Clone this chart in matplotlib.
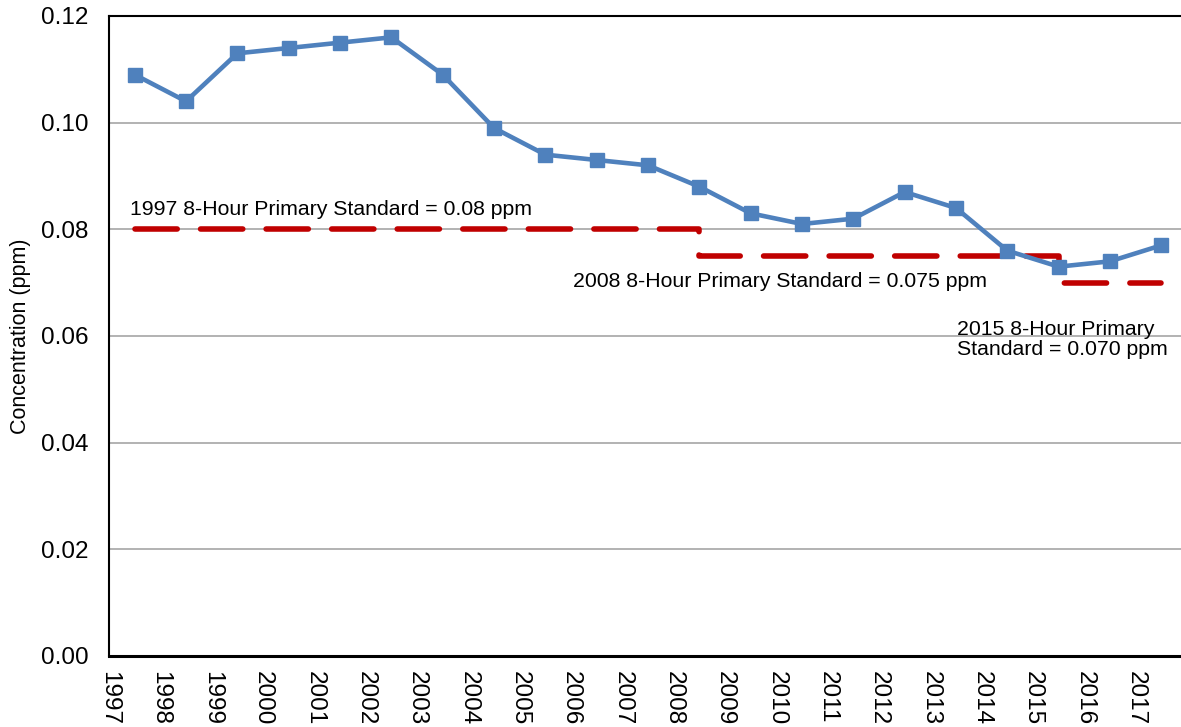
import matplotlib
matplotlib.use("Agg")
import matplotlib.pyplot as plt
import numpy as np

plt.rcParams['font.family'] = ['Liberation Sans', 'DejaVu Sans']

years = list(range(1997, 2018))
concentration = [0.109, 0.104, 0.113, 0.114, 0.115, 0.116, 0.109, 0.099, 0.094, 0.093,
                 0.092, 0.088, 0.083, 0.081, 0.082, 0.087, 0.084, 0.076, 0.073, 0.074, 0.077]
# standard steps: year the standard starts applying, and its value
standard_start = [1997, 2008, 2015, 2017]
standard_values = [0.080, 0.075, 0.070, 0.070]
yticks = [0.00, 0.02, 0.04, 0.06, 0.08, 0.10, 0.12]
xtick_years = list(range(1997, 2018))

W, H = 1181, 727
fig = plt.figure(figsize=(W/100, H/100), dpi=100)
left, right, top, bottom = 109, 1187, 16, 656
ax = fig.add_axes([left/W, 1-bottom/H, (right-left)/W, (bottom-top)/H])

xmid = np.array(years) + 0.5
ax.plot(xmid, concentration, color='#4F81BD', lw=3.3, marker='s', ms=10, zorder=4)

sx = np.array(standard_start) + 0.5
ax.plot(sx, standard_values, color='#C00000', lw=4, dashes=(7.6, 4.2),
        drawstyle='steps-post', dash_capstyle='round', solid_joinstyle='round', zorder=3)

ax.set_xlim(1997, 2018)
ax.set_ylim(0, 0.12)
ax.set_yticks(yticks)
ax.set_yticklabels([f"{v:.2f}" for v in yticks], fontsize=17.5)
ax.set_xticks(xtick_years)
ax.set_xticklabels([str(y) for y in xtick_years], rotation=-90, fontsize=17.5, va='top', ha='center')
ax.tick_params(axis='both', length=0)
ax.tick_params(axis='y', pad=15)
ax.tick_params(axis='x', pad=11)
ax.grid(axis='y', color='#A6A6A6', lw=1.2)
ax.set_axisbelow(True)
for s in ['left', 'top', 'bottom']:
    ax.spines[s].set_color('black')
    ax.spines[s].set_linewidth(1.5)
ax.spines['bottom'].set_linewidth(2.2)
ax.spines['right'].set_visible(False)

ax.set_ylabel('Concentration (ppm)', fontsize=15.5, labelpad=7)

ax.text(1997.41, 0.0838, '1997 8-Hour Primary Standard = 0.08 ppm', fontsize=15.3, va='center', ha='left')
ax.text(2006.04, 0.0703, '2008 8-Hour Primary Standard = 0.075 ppm', fontsize=15.3, va='center', ha='left')
ax.text(2013.52, 0.0593, '2015 8-Hour Primary\nStandard = 0.070 ppm', fontsize=15.3, va='center', ha='left',
        linespacing=1.1)

fig.savefig('out.png', dpi=100)
